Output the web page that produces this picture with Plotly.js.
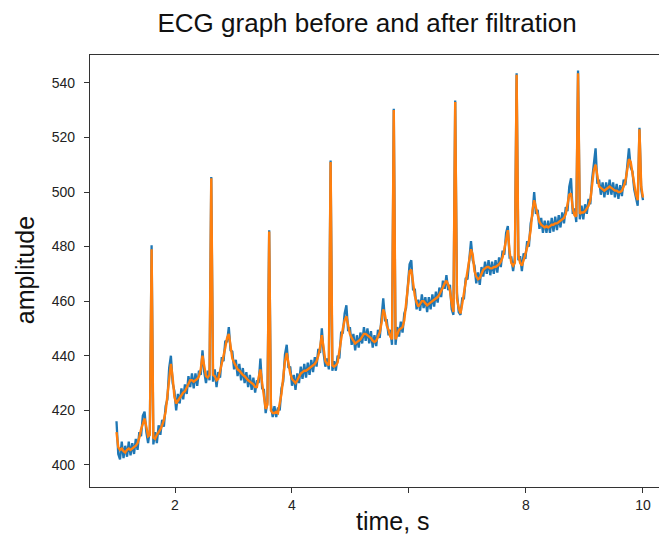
<!DOCTYPE html>
<html>
<head>
<meta charset="utf-8">
<script src="https://cdn.plot.ly/plotly-3.0.1.min.js"></script>
<style>
html,body{margin:0;padding:0;background:#fff;overflow:hidden;}
#chart{width:659px;height:537px;}
</style>
</head>
<body>
<div id="chart"></div>
<script>
// Sample times: 1.00 s to 10.00 s, every 0.03 s (301 samples)
const startTime = 1.0;
const sampleStep = 0.03;

// Raw ECG signal (blue)
const rawSignal = [
416,404,402,408.5,402.5,407,403,408.5,403.5,408,
404,409.5,405.5,412,410.5,418,419.5,412,408,413,
480.5,407.5,412,408,414.5,411,416.5,414,421.5,424,
435.5,440,430,427,420,426,422.5,428,424,429.5,
426,432.5,428.5,433.5,428,433.5,429,434.5,433,442,
434,430,434.5,431,505.5,430.5,435,428.5,434,432,
439.5,438,445.5,445,450.5,442,441.5,435,438.5,432.5,
437,431,435.5,430,434,428.5,433,427.5,432,426.5,
431,430,439,428,427.5,419,423,486,422,417.5,
421.5,417.5,421,420,428,430.5,440.5,444,435.5,436,
429,433,427.5,433.5,430,436,431.5,437,432,437.5,
433,438.5,434,439.5,436,442.5,441,450,441,436,
439,435,511.5,434.5,438,434.5,440,439,448.5,448.5,
455.5,458.5,449,450.5,444,448,442,447.5,443,448.5,
444.5,450.5,445.5,450,444.5,449,443,447.5,443.5,449.5,
446.5,454,461,453,453,447.5,449.5,444,530.5,444,
450.5,447,452.5,448.5,455.5,457.5,467.5,473.5,475,464,
464.5,457,460.5,456.5,462.5,457.5,461.5,456,461.5,457,
462.5,458,463.5,459.5,465,461.5,467.5,464.5,469.5,464,
466,457,455,533.5,463,456,455,461,461,468.5,
468,476.5,482,475,473,466.5,470.5,466,472.5,469,
474.5,470,475,469.5,474.5,470,475,470.5,476,472.5,
478.5,477,485,487.5,476,476,471,476,543.5,475,
476.5,471,477.5,475.5,482,480,488.5,491.5,500,492,
493.5,486.5,490.5,485,489.5,485,489.5,485,490.5,485.5,
491,486,491.5,487,492.5,488.5,494.5,493,502,505,
492,494,489,544.5,490,495,490,495.5,492,497.5,
495.5,504.5,510,516,503,504.5,499,503.5,498,503.5,
499,504.5,499,503.5,498,503,497.5,502.5,498.5,504.5,
502.5,510,516,509,507.5,501,497.5,495,523.5,501,
497
];

// Filtered ECG signal (orange)
const filteredSignal = [
412,406.5,405.5,406,405,404.5,405.5,406,405.5,406,
406.5,407,408,410,413,415.5,417,414,410.5,411,
479,410,409.5,411,412,413,414.5,416.5,419.5,426,
433,437,432,425,422.5,423.5,425,425.5,426.5,427,
428.5,430,431,431,430.5,431,431.5,432.5,435,440,
436,432.5,432,433,505,433,432.5,431,431.5,434,
437,440,443,446.5,448,444,439,437.5,436,435,
434.5,433.5,433,432.5,431.5,431,430.5,430,429.5,428.5,
428.5,432,435,430,426,420.5,422,485.5,420,419,
419,419.5,419,422,426,432,438,441,437,433.5,
431.5,430.5,430,431,432.5,433.5,434,434.5,434.5,435,
435.5,436,436.5,437,438,440,443,447.5,443,438,
437,436.5,511,436.5,436,436.5,437.5,441,446,450,
453,454.5,451,448,446.5,445.5,444.5,445,445.5,446,
447,448,448,447.5,447,446.5,445.5,445,445.5,447,
448.5,452,457,455,451,449.5,447,446,530,446,
448,449.5,450,450.5,453,459,465,471,471.5,466,
462,459.5,458,459,460,460,459,458.5,459,459.5,
460,460.5,461,461.5,462.5,463.5,465,466.5,467.5,466,
464,459,456,533,461,457.5,455.5,459,463,466,
470,474,479,477,471,469,468,468.5,470,471.5,
472,472.5,472.5,472,472,472.5,472.5,473,473.5,474.5,
476,479,483,486,478,474,473,474,543,477,
474,473,475,477.5,479.5,482,486,493,497,494,
491,489,488,487.5,487,487.5,487,487.5,488,488,
488.5,488.5,489,489.5,490,490.5,492,495,499,499.5,
494,491.5,491,543.5,492,492.5,492.5,493,494,495,
497,502,508,510,505,502,501.5,501,500.5,501,
501.5,502,501.5,501,500.5,500.5,500,500,500.5,502,
504,508,512,511,506,503,499,497,523,502,
498
];

const xTickValues = [2, 4, 6, 8, 10];
// In the picture the "6" label is hidden behind the axis title
const xTickLabels = ['2', '4', '', '8', '10'];
const yTickValues = [400, 420, 440, 460, 480, 500, 520, 540];
const yTickLabels = ['400', '420', '440', '460', '480', '500', '520', '540'];

const sampleTimes = rawSignal.map((_, i) => +(startTime + i * sampleStep).toFixed(2));

const traces = [
  {
    x: sampleTimes, y: rawSignal, type: 'scatter', mode: 'lines',
    line: {color: '#1f77b4', width: 2.3}, hoverinfo: 'skip', showlegend: false
  },
  {
    x: sampleTimes, y: filteredSignal, type: 'scatter', mode: 'lines',
    line: {color: '#ff7f0e', width: 2.4}, hoverinfo: 'skip', showlegend: false
  }
];

const fam = '"Liberation Sans", Arial, sans-serif';
const tickFont = {family: fam, size: 14, color: '#222'};
const labelFont = {family: fam, size: 25, color: '#111'};

const layout = {
  width: 659, height: 537,
  margin: {l: 90, r: 0, t: 55, b: 50},
  paper_bgcolor: '#fff', plot_bgcolor: '#fff',
  title: {
    text: 'ECG graph before and after filtration',
    font: {family: fam, size: 26, color: '#111'},
    x: 0.557, xref: 'container', xanchor: 'center',
    y: 0.958, yref: 'container', yanchor: 'middle'
  },
  xaxis: {
    range: [0.547, 10.274], tickvals: xTickValues, ticktext: xTickLabels,
    showline: true, mirror: true, linecolor: '#333', linewidth: 1.2,
    ticks: 'outside', ticklen: 5, tickcolor: '#333', tickwidth: 1,
    showgrid: false, zeroline: false, tickfont: tickFont
  },
  yaxis: {
    range: [391.9, 550.2], tickvals: yTickValues, ticktext: yTickLabels,
    showline: true, mirror: false, linecolor: '#333', linewidth: 1.2,
    ticks: 'outside', ticklen: 5, tickcolor: '#333', tickwidth: 1,
    ticklabelstandoff: 6,
    showgrid: false, zeroline: false, tickfont: tickFont
  },
  annotations: [
    {
      text: 'time, s', font: labelFont, showarrow: false,
      xref: 'paper', yref: 'paper', x: 0.5325, y: -0.079,
      xanchor: 'center', yanchor: 'middle'
    },
    {
      text: 'amplitude', font: labelFont, showarrow: false, textangle: -90,
      xref: 'paper', yref: 'paper', x: -0.114, y: 0.502,
      xanchor: 'center', yanchor: 'middle'
    }
  ]
};

Plotly.newPlot('chart', traces, layout, {displayModeBar: false, staticPlot: true});
</script>
</body>
</html>
